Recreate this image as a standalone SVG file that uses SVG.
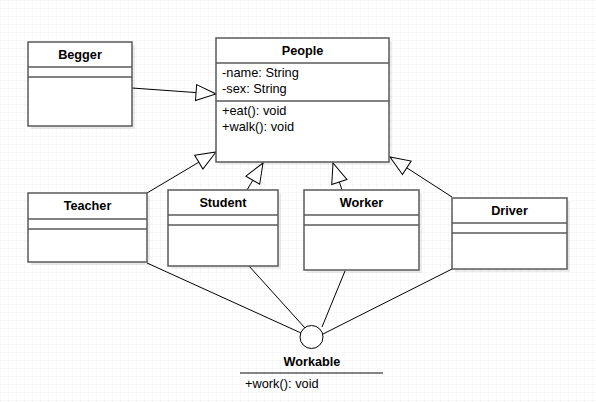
<svg xmlns="http://www.w3.org/2000/svg" width="596" height="402" viewBox="0 0 596 402">
<defs>
<pattern id="grid" width="8" height="8" patternUnits="userSpaceOnUse">
<path d="M8 0 L0 0 0 8" fill="none" stroke="#f1f1f1" stroke-width="1"/>
</pattern>
<marker id="gen" markerUnits="userSpaceOnUse" markerWidth="22" markerHeight="18" refX="20" refY="8" orient="auto" overflow="visible">
<path d="M0,0 L20,8 L0,16 Z" fill="#fff" stroke="#000" stroke-width="1"/>
</marker>
</defs>
<style>
.box{fill:#fff;stroke:#5a5a5a;stroke-width:1.5}
.sh{fill:#000;opacity:0.07}
.div{stroke:#5a5a5a;stroke-width:1.5}
.t{font-family:"Liberation Sans",Arial,sans-serif;font-size:12.7px;font-weight:bold;text-anchor:middle;fill:#000}
.a{font-family:"Liberation Sans",Arial,sans-serif;font-size:12.8px;fill:#000}
.c{stroke:#000;stroke-width:1;fill:none}
</style>
<rect width="596" height="402" fill="#fff"/>
<rect width="596" height="402" fill="url(#grid)"/>

<g id="connectors">
<line class="c" x1="132" y1="88" x2="216" y2="94" marker-end="url(#gen)"/>
<line class="c" x1="147" y1="193" x2="216" y2="152" marker-end="url(#gen)"/>
<line class="c" x1="247" y1="190" x2="263" y2="163" marker-end="url(#gen)"/>
<line class="c" x1="342" y1="190" x2="333" y2="163" marker-end="url(#gen)"/>
<line class="c" x1="452" y1="197" x2="390" y2="157" marker-end="url(#gen)"/>
<line class="c" x1="147" y1="263" x2="301" y2="333"/>
<line class="c" x1="249" y1="266" x2="305" y2="328"/>
<line class="c" x1="345" y1="271" x2="322" y2="327"/>
<line class="c" x1="452" y1="269" x2="323" y2="334"/>
</g>

<g id="Begger">
<rect class="sh" x="31" y="45" width="104" height="84"/>
<rect class="box" x="28" y="42" width="104" height="84"/>
<line class="div" x1="28" y1="67" x2="132" y2="67"/>
<line class="div" x1="28" y1="77" x2="132" y2="77"/>
<text class="t" x="80" y="59">Begger</text>
</g>

<g id="People">
<rect class="sh" x="219" y="41" width="173" height="124"/>
<rect class="box" x="216" y="38" width="173" height="124"/>
<line class="div" x1="216" y1="63" x2="389" y2="63"/>
<line class="div" x1="216" y1="101" x2="389" y2="101"/>
<text class="t" x="302.5" y="55">People</text>
<text class="a" x="222" y="77">-name: String</text>
<text class="a" x="222" y="93">-sex: String</text>
<text class="a" x="222" y="115">+eat(): void</text>
<text class="a" x="222" y="131">+walk(): void</text>
</g>

<g id="Teacher">
<rect class="sh" x="31" y="196" width="119" height="69"/>
<rect class="box" x="28" y="193" width="119" height="69"/>
<line class="div" x1="28" y1="219" x2="147" y2="219"/>
<line class="div" x1="28" y1="229" x2="147" y2="229"/>
<text class="t" x="87.5" y="210">Teacher</text>
</g>

<g id="Student">
<rect class="sh" x="171" y="193" width="110" height="76"/>
<rect class="box" x="168" y="190" width="110" height="76"/>
<line class="div" x1="168" y1="215" x2="278" y2="215"/>
<line class="div" x1="168" y1="225" x2="278" y2="225"/>
<text class="t" x="223" y="207">Student</text>
</g>

<g id="Worker">
<rect class="sh" x="307" y="193" width="115" height="80"/>
<rect class="box" x="304" y="190" width="115" height="80"/>
<line class="div" x1="304" y1="215" x2="419" y2="215"/>
<line class="div" x1="304" y1="225" x2="419" y2="225"/>
<text class="t" x="361.5" y="207">Worker</text>
</g>

<g id="Driver">
<rect class="sh" x="455" y="201" width="115" height="71"/>
<rect class="box" x="452" y="198" width="115" height="71"/>
<line class="div" x1="452" y1="223" x2="567" y2="223"/>
<line class="div" x1="452" y1="233" x2="567" y2="233"/>
<text class="t" x="509.5" y="215">Driver</text>
</g>

<g id="Workable">
<circle cx="311.5" cy="337" r="11.5" fill="#fff" stroke="#000" stroke-width="1"/>
<text class="t" x="312" y="366">Workable</text>
<line class="div" x1="240" y1="373" x2="383" y2="373"/>
<text class="a" x="245" y="388">+work(): void</text>
</g>
</svg>
